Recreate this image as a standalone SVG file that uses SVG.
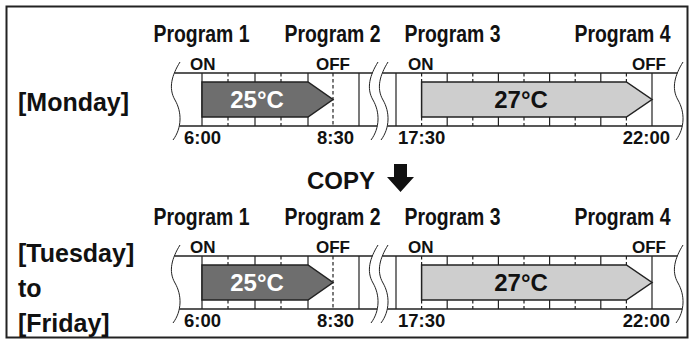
<svg xmlns="http://www.w3.org/2000/svg" width="693" height="343" viewBox="0 0 693 343">
<style>
text{font-family:"Liberation Sans",Arial,Helvetica,sans-serif;font-weight:bold;fill:#111}
.day{font-size:25px}
.prog{font-size:23px}
.onoff{font-size:17px}
.time{font-size:18.5px}
.temp{font-size:24px}
.copy{font-size:24px}
.ln{stroke:#222;stroke-width:1.5;fill:none}
.tk{stroke:#222;stroke-width:1.2}
.ds{stroke:#222;stroke-width:1.2;stroke-dasharray:3.5 2.5}
.wave{stroke:#222;stroke-width:1;fill:none}
.arw{stroke:#222;stroke-width:1.5}
</style>
<defs>
<g id="timeline">
  <text class="prog" x="201.5" y="42" text-anchor="middle" textLength="96" lengthAdjust="spacingAndGlyphs">Program 1</text>
  <text class="prog" x="332.5" y="42" text-anchor="middle" textLength="96" lengthAdjust="spacingAndGlyphs">Program 2</text>
  <text class="prog" x="452.5" y="42" text-anchor="middle" textLength="96" lengthAdjust="spacingAndGlyphs">Program 3</text>
  <text class="prog" x="622.5" y="42" text-anchor="middle" textLength="96" lengthAdjust="spacingAndGlyphs">Program 4</text>
  <text class="onoff" x="190" y="70">ON</text>
  <text class="onoff" x="316" y="70">OFF</text>
  <text class="onoff" x="408" y="70">ON</text>
  <text class="onoff" x="632" y="70">OFF</text>
  <path class="ln" d="M174.4,73 H372.4 M382.4,73 H677.4 M179.3,126 H377.3 M387.3,126 H682.3"/>
  <path class="wave" d="M180,62 C172,75 168,88 175,100 C182,112 182,128 173,140"/>
  <path class="wave" d="M378,62 C370,75 366,88 373,100 C380,112 380,128 371,140"/>
  <path class="wave" d="M388,62 C380,75 376,88 383,100 C390,112 390,128 381,140"/>
  <path class="wave" d="M683,62 C675,75 671,88 678,100 C685,112 685,128 676,140"/>
  <path class="tk" d="M202,73 V126 M359,73 V126 M396,73 V126 M652,73 V126"/>
  <path class="ds" d="M333,73 V126"/>
  <path class="tk" d="M255,73 V82 M255,117 V126 M308,73 V82 M308,117 V126 M447.2,73 V82 M447.2,117 V126 M498.4,73 V82 M498.4,117 V126 M549.6,73 V82 M549.6,117 V126 M600.8,73 V82 M600.8,117 V126"/>
  <path class="ds" d="M228,73 V82 M228,117 V126 M281,73 V82 M281,117 V126 M421.6,73 V82 M421.6,117 V126 M472.8,73 V82 M472.8,117 V126 M524,73 V82 M524,117 V126 M575.2,73 V82 M575.2,117 V126 M626.4,73 V82 M626.4,117 V126"/>
  <path class="arw" fill="#6e6e6e" d="M202,82 H308 L333,99.5 L308,117 H202 Z"/>
  <path class="arw" fill="#cecece" d="M421.6,82 H626.4 L652,99.5 L626.4,117 H421.6 Z"/>
  <text class="temp" x="257" y="108" text-anchor="middle" style="fill:#fff">25°C</text>
  <text class="temp" x="521" y="108" text-anchor="middle">27°C</text>
  <text class="time" x="184" y="144">6:00</text>
  <text class="time" x="317" y="144">8:30</text>
  <text class="time" x="398" y="144">17:30</text>
  <text class="time" x="670" y="144" text-anchor="end">22:00</text>
</g>
</defs>
<rect x="0" y="0" width="693" height="343" fill="#fff"/>
<rect x="6.5" y="6.5" width="681" height="331" fill="#fff" stroke="#222" stroke-width="2"/>
<g id="monday">
  <text class="day" x="18" y="111">[Monday]</text>
  <use href="#timeline"/>
</g>
<g id="tuesday-friday">
  <text class="day" x="18" y="262">[Tuesday]</text>
  <text class="day" x="18" y="297">to</text>
  <text class="day" x="18" y="332">[Friday]</text>
  <use href="#timeline" transform="translate(0,183)"/>
</g>
<g id="connectors">
  <text class="copy" x="307" y="189">COPY</text>
  <polygon fill="#111" points="394,164 407,164 407,177 414,177 400.5,192 387,177 394,177"/>
</g>
</svg>
